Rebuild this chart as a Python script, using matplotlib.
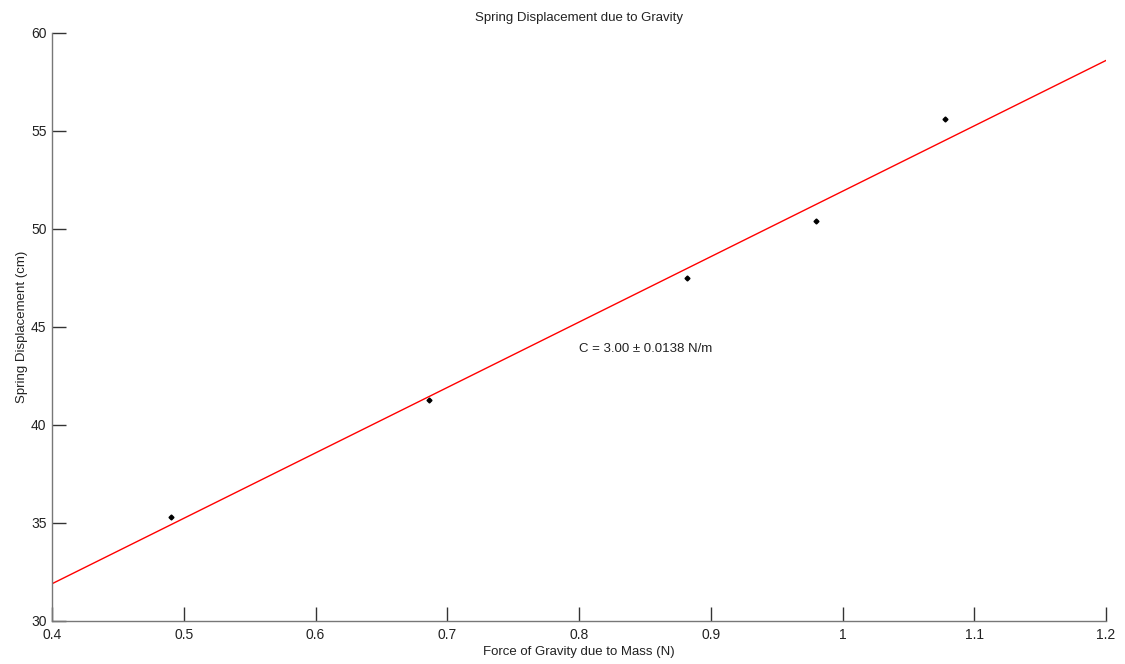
import matplotlib
matplotlib.use("Agg")
import matplotlib.pyplot as plt

force_n = [0.490, 0.686, 0.882, 0.980, 1.078]
displacement_cm = [35.3, 41.3, 47.5, 50.4, 55.6]
fit_x = [0.4, 1.2]
fit_y = [31.9, 58.6]
x_ticks = [0.4, 0.5, 0.6, 0.7, 0.8, 0.9, 1.0, 1.1, 1.2]
x_tick_labels = ["0.4", "0.5", "0.6", "0.7", "0.8", "0.9", "1", "1.1", "1.2"]
y_ticks = [30, 35, 40, 45, 50, 55, 60]

plt.rcParams['font.family'] = ['Liberation Sans', 'DejaVu Sans']
fig = plt.figure(figsize=(11.25, 6.64), dpi=100)
ax = fig.add_axes([52/1125, 1-621/664, (1106-52)/1125, (621-33)/664])

ax.plot(fit_x, fit_y, color='red', linewidth=1.0)
ax.plot(force_n, displacement_cm, linestyle='none', marker='D', markersize=2.5, color='black')

ax.set_xlim(0.4, 1.2)
ax.set_ylim(30, 60)
ax.set_xticks(x_ticks)
ax.set_xticklabels(x_tick_labels)
ax.set_yticks(y_ticks)
for s in ['top', 'right']:
    ax.spines[s].set_visible(False)
for s in ['left', 'bottom']:
    ax.spines[s].set_color('#777777')
    ax.spines[s].set_linewidth(1.0)
ax.tick_params(direction='in', length=10, width=1, color='#333333', labelsize=10, labelcolor='#222222')
ax.tick_params(axis='x', pad=5)
ax.tick_params(axis='y', pad=4)

ax.set_title("Spring Displacement due to Gravity", fontsize=9.5, color='#222222', pad=9)
ax.set_xlabel("Force of Gravity due to Mass (N)", fontsize=9.5, color='#222222', labelpad=3)
ax.set_ylabel("Spring Displacement (cm)", fontsize=9.5, color='#222222', labelpad=2)
ax.text(0.8, 43.9, "C = 3.00 \u00b1 0.0138 N/m", fontsize=9.5, color='#222222', ha='left', va='center')

fig.savefig("out.png", dpi=100)
